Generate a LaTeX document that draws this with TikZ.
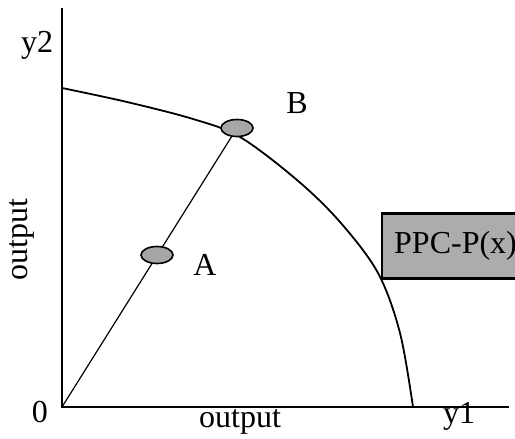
\documentclass[tikz,border=0pt]{standalone}
\usepackage{fontspec}
\setmainfont{Liberation Serif}
\usetikzlibrary{shapes.geometric}

\tikzstyle{axis}=[line width=1pt]
\tikzstyle{frontier}=[line width=0.9pt]
\tikzstyle{ray}=[line width=0.6pt]
\tikzstyle{bundle}=[ellipse, draw=black, fill=gray!70, line width=0.8pt, minimum width=16pt, minimum height=8.5pt, inner sep=0pt]
\tikzstyle{txt}=[font=\fontsize{16}{18}\selectfont, inner sep=0pt]
\tikzstyle{ppcbox}=[draw=black, fill=gray!65, line width=1.2pt, font=\fontsize{16}{18}\selectfont, minimum height=32.5pt, inner xsep=6pt]

\begin{document}
\begin{tikzpicture}[x=0.5pt, y=-0.5pt]
	\useasboundingbox (0,0) rectangle (515,439);

	\coordinate (O) at (62,407);
	\coordinate (Ytop) at (62,8);
	\coordinate (Xend) at (509,407);
	\coordinate (A) at (157,255);
	\coordinate (B) at (237,128);

	% axes
	\draw[axis] (Ytop) -- (O) -- (Xend);

	% production possibility curve
	\draw[frontier] plot[smooth, tension=0.55] coordinates {(62,88) (127,102) (193,119) (240,137) (297,180) (340,222) (378,273) (400,333) (413,407)};

	\draw[ray] (O) -- (B);

	\node[bundle] (pA) at (A) {};
	\node[bundle] (pB) at (B) {};

	\node[txt] (lA) at (205,265) {A};
	\node[txt] (lB) at (297,103) {B};
	\node[txt] (ly2) at (37,45) {y2};
	\node[txt] (ly1) at (459,416) {y1};
	\node[txt] (lO) at (40,412) {0};
	\node[txt] (xout) at (240,422) {output};
	\node[txt, rotate=90] (yout) at (22,240) {output};

	\node[ppcbox, anchor=west] (ppc) at (381,246) {PPC-P(x)};
\end{tikzpicture}
\end{document}
